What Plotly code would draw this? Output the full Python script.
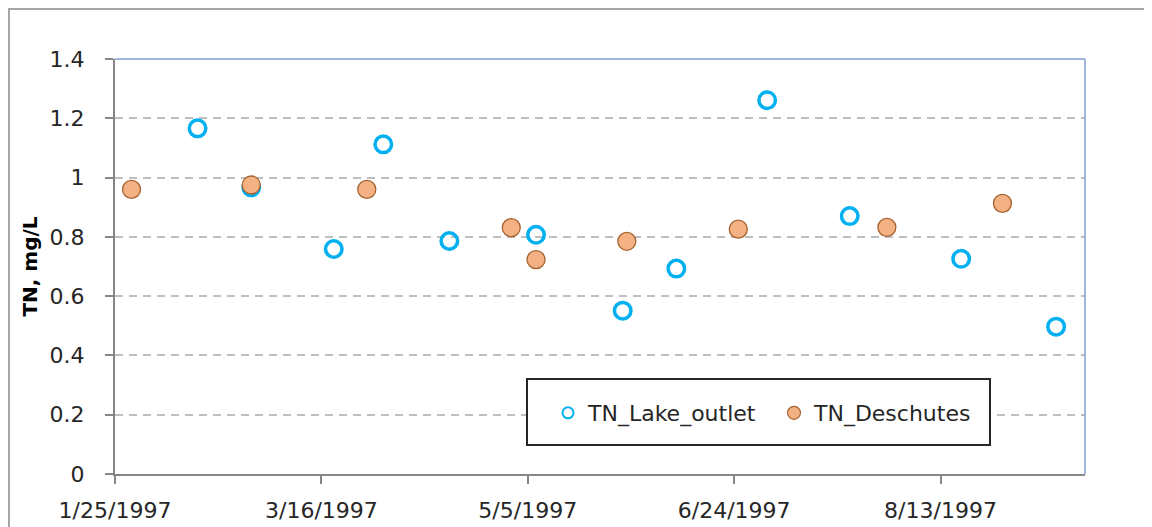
import plotly.graph_objects as go

# ---- data ----
lake_dates = ["1997-02-14", "1997-02-27", "1997-03-19", "1997-03-31", "1997-04-16", "1997-05-07",
              "1997-05-28", "1997-06-10", "1997-07-02", "1997-07-22", "1997-08-18", "1997-09-10"]
lake_tn = [1.166, 0.967, 0.759, 1.112, 0.786, 0.807, 0.551, 0.693, 1.261, 0.870, 0.726, 0.497]

desch_dates = ["1997-01-29", "1997-02-27", "1997-03-27", "1997-05-01", "1997-05-07", "1997-05-29",
               "1997-06-25", "1997-07-31", "1997-08-28"]
desch_tn = [0.960, 0.975, 0.960, 0.831, 0.723, 0.785, 0.826, 0.832, 0.913]

series_names = ["TN_Lake_outlet", "TN_Deschutes"]
y_title = "TN, mg/L"
x_range = ["1997-01-25", "1997-09-17"]
y_ticks = [0, 0.2, 0.4, 0.6, 0.8, 1, 1.2, 1.4]

BLUE = "#00B0F0"
ORANGE_FILL = "#F4B183"
ORANGE_LINE = "#A5622F"
FONT = "DejaVu Sans"
TXT = "#262626"

fig = go.Figure()
fig.add_trace(go.Scatter(
    x=lake_dates, y=lake_tn, mode="markers", name=series_names[0], showlegend=False,
    marker=dict(symbol="circle-open", size=16.5, color=BLUE, line=dict(width=3.5, color=BLUE)),
))
fig.add_trace(go.Scatter(
    x=desch_dates, y=desch_tn, mode="markers", name=series_names[1], showlegend=False,
    marker=dict(symbol="circle", size=18, color=ORANGE_FILL, line=dict(width=1.3, color=ORANGE_LINE)),
))
# legend entries with smaller symbols
fig.add_trace(go.Scatter(
    x=[None], y=[None], mode="markers", name=series_names[0],
    marker=dict(symbol="circle-open", size=11, color=BLUE, line=dict(width=2, color=BLUE)),
))
fig.add_trace(go.Scatter(
    x=[None], y=[None], mode="markers", name=series_names[1],
    marker=dict(symbol="circle", size=13, color=ORANGE_FILL, line=dict(width=1.2, color=ORANGE_LINE)),
))

# page has an 8px body margin: figure coords = page coords - 8
W, H = 1144, 519
L, R, T, B = 107, 1077, 51, 466
pw, ph = R - L, B - T

def px(xp):
    return (xp - L) / pw

def py(yp):
    return (B - yp) / ph

shapes = [
    # outer chart border (cropped on right and bottom)
    dict(type="rect", xref="paper", yref="paper", x0=px(1), x1=px(1300), y0=py(700), y1=py(1),
         line=dict(color="#A6A6A6", width=2), fillcolor="rgba(0,0,0,0)", layer="below"),
    # plot area top and right border
    dict(type="line", xref="paper", yref="paper", x0=0, x1=1, y0=1, y1=1,
         line=dict(color="#7F9FD3", width=1.5)),
    dict(type="line", xref="paper", yref="paper", x0=1, x1=1, y0=0, y1=1,
         line=dict(color="#7F9FD3", width=1.5)),
    # legend box
    dict(type="rect", xref="paper", yref="paper", x0=px(519), x1=px(982), y0=py(437), y1=py(371),
         line=dict(color="#262626", width=2), fillcolor="white", layer="above"),
]

fig.update_layout(
    width=W, height=H,
    margin=dict(l=L, r=W - R, t=T, b=H - B),
    paper_bgcolor="white", plot_bgcolor="white",
    font=dict(family=FONT, size=22, color=TXT),
    shapes=shapes,
    showlegend=True,
    legend=dict(
        orientation="h", x=px(540), xanchor="left", y=py(405), yanchor="middle",
        bgcolor="rgba(0,0,0,0)", borderwidth=0,
        font=dict(family=FONT, size=22, color=TXT),
        entrywidth=181, entrywidthmode="pixels", itemwidth=30,
    ),
    xaxis=dict(
        type="date", range=x_range, tick0=x_range[0], dtick=50 * 86400000,
        tickformat="%-m/%-d/%Y", showgrid=False, zeroline=False, automargin=False,
        showline=True, linecolor="#868686", linewidth=2,
        ticks="outside", ticklen=8, tickcolor="#868686", tickwidth=1.5,
        ticklabelstandoff=8,
        tickfont=dict(family=FONT, size=22, color=TXT),
    ),
    yaxis=dict(
        range=[0, 1.4], tickvals=y_ticks, ticktext=[f"{v:g}" for v in y_ticks],
        showgrid=True, gridcolor="#BFBFBF", gridwidth=1.5, griddash="8px,6px",
        zeroline=False, showline=True, linecolor="#868686", linewidth=2, automargin=True,
        ticks="outside", ticklen=8, tickcolor="#868686", tickwidth=1.5,
        ticklabelstandoff=16,
        tickfont=dict(family=FONT, size=22, color=TXT),
        title=dict(text="<b>" + y_title + "</b>", font=dict(family=FONT, size=20, color="#000000"),
                   standoff=7),
    ),
)

fig.write_html("out.html")
